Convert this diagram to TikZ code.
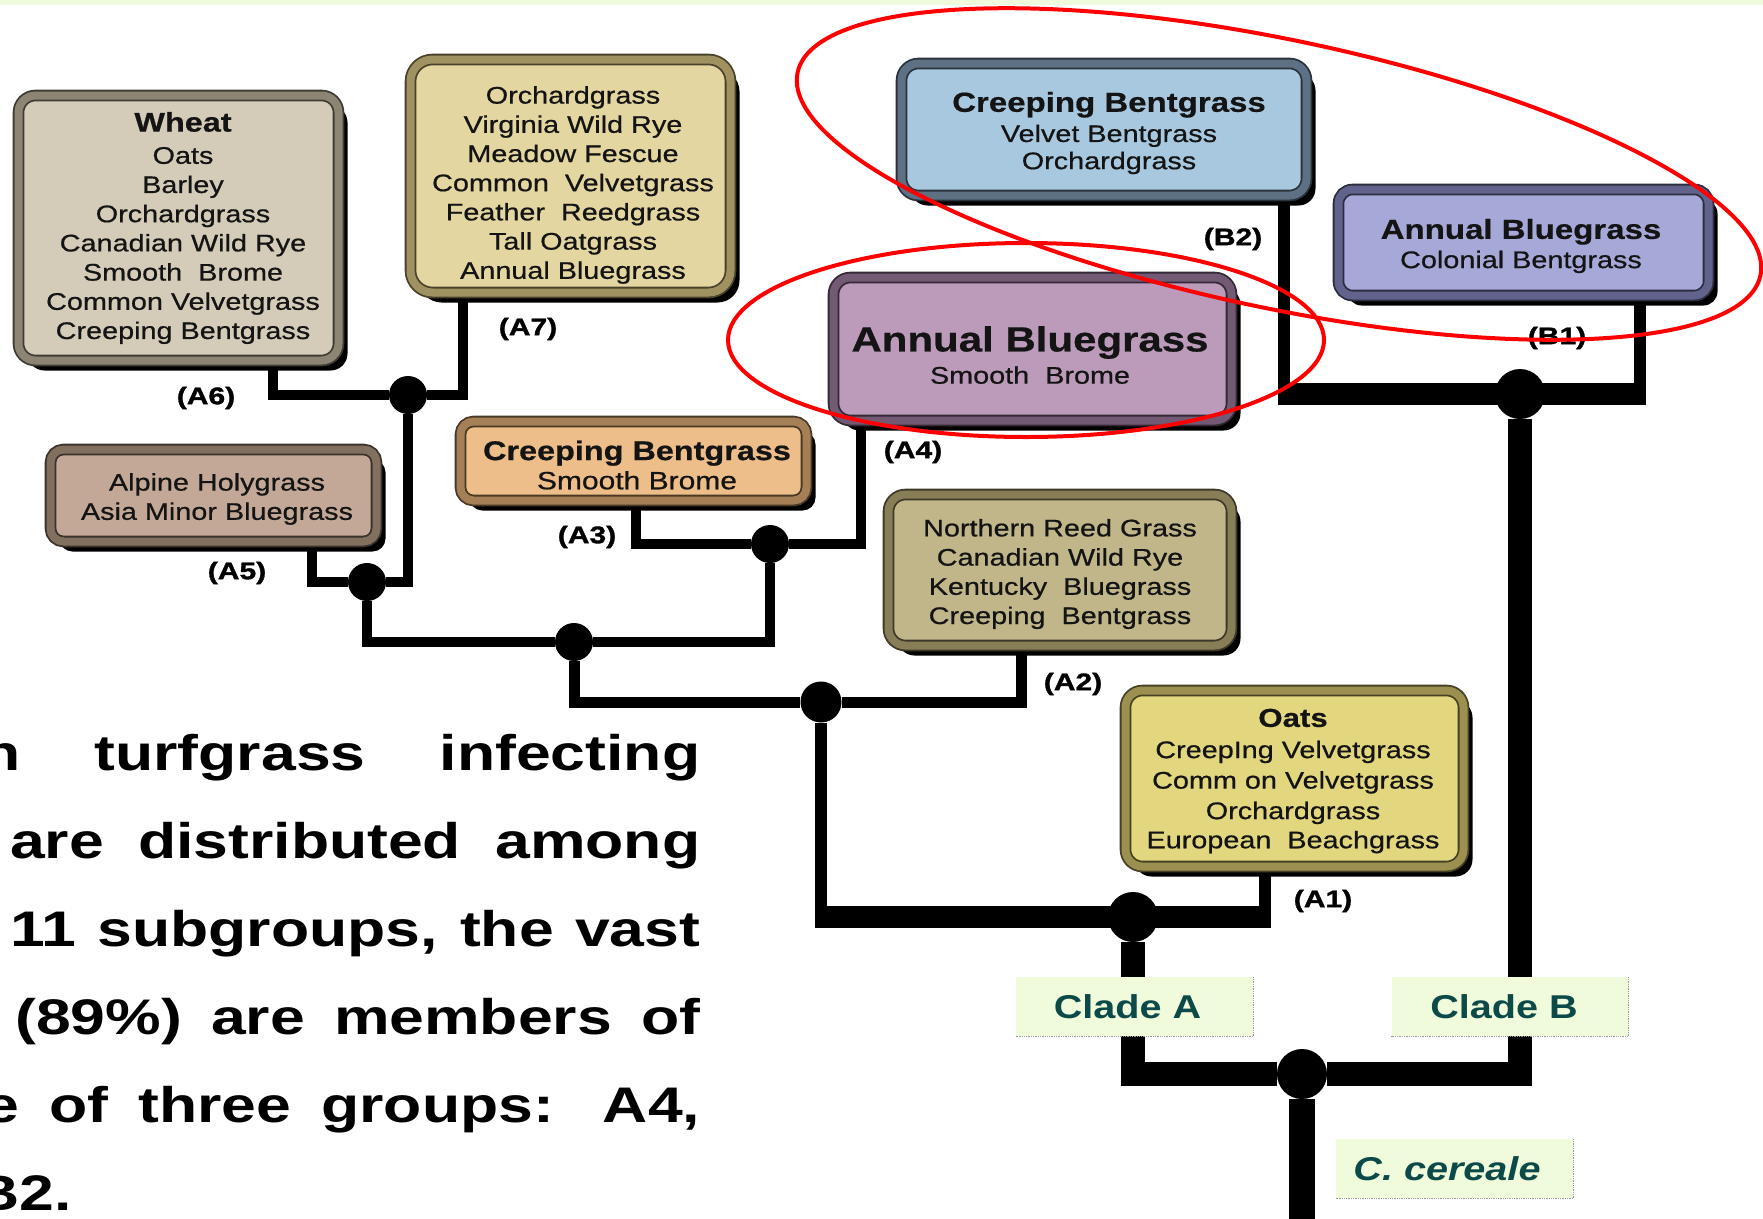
\documentclass[tikz,border=0pt]{standalone}
\usepackage{fontspec}
\setmainfont{Liberation Sans}
\newfontfamily\boxfont{Liberation Sans}[FakeStretch=1.2,FakeBold=0.6]
\newfontfamily\cladefont{Liberation Sans}[FakeStretch=1.2]
\newfontfamily\parafont{Liberation Sans}[FakeStretch=1.25]
\newfontfamily\tagfont{Liberation Sans}[FakeStretch=1.25,FakeBold=1.4]
\usetikzlibrary{calc,shadows}
\pgfdeclarelayer{bg}
\pgfsetlayers{bg,main}

\definecolor{topgreen}{HTML}{EFFADC}
\definecolor{cladefill}{HTML}{EFFBDA}
\definecolor{cladetext}{HTML}{0C4A4A}
\definecolor{a6face}{HTML}{D4CCB9}\definecolor{a6rim}{HTML}{8C8574}
\definecolor{a7face}{HTML}{E3D6A1}\definecolor{a7rim}{HTML}{A09260}
\definecolor{b2face}{HTML}{A8C8E0}\definecolor{b2rim}{HTML}{5E7184}
\definecolor{b1face}{HTML}{A6A8D7}\definecolor{b1rim}{HTML}{62638C}
\definecolor{a4face}{HTML}{BC9ABA}\definecolor{a4rim}{HTML}{735A74}
\definecolor{a3face}{HTML}{EEBE8A}\definecolor{a3rim}{HTML}{A57F55}
\definecolor{a5face}{HTML}{C4A897}\definecolor{a5rim}{HTML}{82705F}
\definecolor{a2face}{HTML}{C0B68A}\definecolor{a2rim}{HTML}{877D56}
\definecolor{a1face}{HTML}{E2D67F}\definecolor{a1rim}{HTML}{9C9050}

\begin{document}
\begin{tikzpicture}[x=1pt,y=-1pt,
  grpbox/.style 2 args={rounded corners=17pt, fill=#1, draw=#2!45!black,
    line width=1.8pt, double=#2, double distance=8pt,
    drop shadow={shadow xshift=9pt, shadow yshift=-10pt, fill=black, opacity=1},
    inner sep=0pt},
  txt/.style={inner sep=0pt, align=center, text=black!92},
  reg/.style={font=\boxfont\fontsize{24}{29.2}\selectfont},
  tag/.style={inner sep=0pt, font=\tagfont\bfseries\fontsize{24}{28}\selectfont},
  jn/.style={circle, fill=black, inner sep=0pt, minimum size=#1},
  br/.style={draw=black, line width=#1},
  clade/.style={fill=cladefill, minimum width=237pt, minimum height=59pt,
    inner sep=0pt, text=cladetext, font=\cladefont\bfseries\fontsize{33}{40}\selectfont},
  cladeedge/.style={densely dotted, draw=gray!80, line width=1.3pt},
  para/.style={inner sep=0pt, font=\parafont\bfseries\fontsize{50}{60}\selectfont},
  ring/.style={draw=red, line width=4pt}
]
\useasboundingbox (0,0) rectangle (1763,1218);
\fill[topgreen] (0,0) rectangle (1763,5);

% ---- host-group boxes ----
\node[grpbox={a6face}{a6rim}, minimum width=320pt, minimum height=265pt] (a6) at (178.5,228) {};
\node[grpbox={a7face}{a7rim}, minimum width=320pt, minimum height=233pt, rounded corners=22pt] (a7) at (570.5,176) {};
\node[grpbox={b2face}{b2rim}, minimum width=405pt, minimum height=132pt] (b2) at (1104,129.5) {};
\node[grpbox={b1face}{b1rim}, minimum width=370pt, minimum height=106pt, rounded corners=14pt] (b1) at (1523.5,242.5) {};
\node[grpbox={a4face}{a4rim}, minimum width=398pt, minimum height=143pt] (a4) at (1032.5,349) {};
\node[grpbox={a3face}{a3rim}, minimum width=346pt, minimum height=79pt, rounded corners=13pt] (a3) at (633.5,461) {};
\node[grpbox={a5face}{a5rim}, minimum width=326pt, minimum height=92pt, rounded corners=13pt] (a5) at (213.5,495.5) {};
\node[grpbox={a2face}{a2rim}, minimum width=343pt, minimum height=151pt] (a2) at (1060,570) {};
\node[grpbox={a1face}{a1rim}, minimum width=338pt, minimum height=176pt] (a1) at (1294.5,778.5) {};

% ---- box contents ----
\node[txt, reg] (a6t) at (183,228) {{\bfseries\fontsize{27}{30}\selectfont Wheat}\\[3pt]Oats\\Barley\\Orchardgrass\\Canadian Wild Rye\\Smooth\ \ Brome\\Common Velvetgrass\\Creeping Bentgrass};
\node[txt, reg] (a7t) at (573,185) {Orchardgrass\\Virginia Wild Rye\\Meadow Fescue\\Common\ \ Velvetgrass\\Feather\ \ Reedgrass\\Tall Oatgrass\\Annual Bluegrass};
\node[txt, reg] (b2t) at (1109,133) {{\bfseries\fontsize{27.5}{30}\selectfont Creeping Bentgrass}\\[1pt]Velvet Bentgrass\\[-2pt]Orchardgrass};
\node[txt, reg] (b1t) at (1521,246) {{\bfseries\fontsize{27.5}{30}\selectfont Annual Bluegrass}\\[0pt]Colonial Bentgrass};
\node[txt, reg] (a4t) at (1030,355) {{\bfseries\fontsize{35}{38}\selectfont Annual Bluegrass}\\[3pt]Smooth\ \ Brome};
\node[txt, reg] (a3t) at (637,465) {{\bfseries\fontsize{27}{30}\selectfont Creeping Bentgrass}\\[0pt]{\fontsize{25}{29}\selectfont Smooth Brome}};
\node[txt, reg] (a5t) at (217,499) {Alpine Holygrass\\Asia Minor Bluegrass};
\node[txt, reg] (a2t) at (1060,574) {Northern Reed Grass\\Canadian Wild Rye\\Kentucky\ \ Bluegrass\\Creeping\ \ Bentgrass};
\node[txt, reg] (a1t) at (1293,781) {{\bfseries\fontsize{26}{30}\selectfont Oats}\\[2pt]CreepIng Velvetgrass\\[1.3pt]Comm on Velvetgrass\\[1.3pt]Orchardgrass\\[0pt]European\ \ Beachgrass};

% ---- subgroup tags ----
\node[tag] (la6) at (206,398) {(A6)};
\node[tag] (la7) at (528,329) {(A7)};
\node[tag] (lb2) at (1233,239) {(B2)};
\node[tag] (lb1) at (1557,338) {(B1)};
\node[tag] (la4) at (913,452) {(A4)};
\node[tag] (la3) at (587,537) {(A3)};
\node[tag] (la5) at (237,573) {(A5)};
\node[tag] (la2) at (1073,684) {(A2)};
\node[tag] (la1) at (1323,901) {(A1)};

% ---- branch points ----
\node[jn=38pt] (j67) at (408,395) {};
\node[jn=38pt] (j5) at (367,582) {};
\node[jn=38pt] (j34) at (770,544) {};
\node[jn=38pt] (jmid) at (574,642) {};
\node[jn=41pt] (j2) at (821,702) {};
\node[jn=50pt] (jA) at (1133,917) {};
\node[jn=50pt] (jB) at (1520,394) {};
\node[jn=50pt] (jroot) at (1302,1074) {};
\coordinate (rootend) at (1302,1230);

% ---- clade labels ----
\node[clade] (cladeA) at (1134.5,1006.5) {Clade A\hspace*{14pt}};
\node[clade] (cladeB) at (1510,1006.5) {Clade B\hspace*{12pt}};
\node[clade, font=\cladefont\bfseries\itshape\fontsize{33}{40}\selectfont] (ccer) at (1454.5,1168.5) {C. cereale\hspace*{15pt}};
\draw[cladeedge] (cladeA.north east) -- (cladeA.south east) -- (cladeA.south west);
\draw[cladeedge] (cladeB.north east) -- (cladeB.south east) -- (cladeB.south west);
\draw[cladeedge] (ccer.north east) -- (ccer.south east) -- (ccer.south west);

% ---- tree branches ----
\begin{pgfonlayer}{bg}
\draw[br=10pt] ($(a6.south)+(94.5,0)$) |- (j67) -| ($(a7.south)+(-107.5,0)$);
\draw[br=10pt] ($(a5.south)+(98.5,0)$) |- (j5) -| (j67);
\draw[br=10.5pt] ($(a3.south)+(2.5,0)$) |- (j34) -| ($(a4.south)+(-171.5,0)$);
\draw[br=10pt] (j5) |- (jmid) -| (j34);
\draw[br=11pt] (jmid) |- (j2) -| ($(a2.south)+(-39,0)$);
\draw[br=12pt] (j2) |- (jA) -| ($(a1.south)+(-29.5,0)$);
\draw[br=22pt] ($(j2 |- jA)+(-6,0)$) -- ($(a1.south |- jA)+(-23.5,0)$);
\draw[br=12pt] ($(b2.south)+(180,0)$) |- (jB) -| ($(b1.south)+(116.5,0)$);
\draw[br=22pt] ($(b2.south |- jB)+(174,0)$) -- ($(b1.south |- jB)+(122.5,0)$);
\draw[br=24pt] (jA) |- (jroot) -| (jB);
\draw[br=26pt] (jroot) -- (rootend);
\end{pgfonlayer}

% ---- summary text ----
\node[para, anchor=base west] (p1) at (-18,770) {\makebox[718pt][s]{n turfgrass infecting}};
\node[para, anchor=base west] (p2) at (10,858) {\makebox[690pt][s]{are distributed among}};
\node[para, anchor=base west] (p3) at (10,946) {\makebox[690pt][s]{11 subgroups, the vast}};
\node[para, anchor=base west] (p4) at (15,1034) {\makebox[685pt][s]{(89\%) are members of}};
\node[para, anchor=base west] (p5) at (-16,1122) {\makebox[716pt][s]{e of three groups: A4,}};
\node[para, anchor=base east] (p6) at (72,1210) {B2.};

% ---- highlight rings ----
\draw[ring, rotate around={-11.9:(1279,174)}] (1279,174) ellipse [x radius=492pt, y radius=134pt];
\draw[ring] (1026,340) ellipse [x radius=298pt, y radius=97pt];
\end{tikzpicture}
\end{document}
